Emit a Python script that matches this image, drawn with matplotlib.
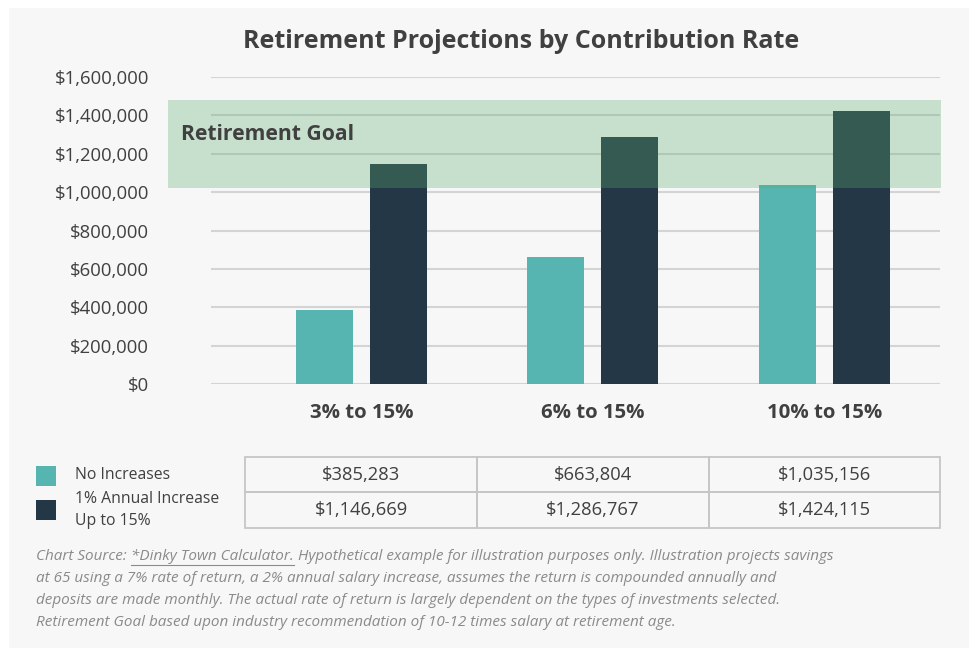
import matplotlib
matplotlib.use("Agg")
import matplotlib.pyplot as plt
import matplotlib.patches as mpatches
from matplotlib.ticker import FuncFormatter

plt.rcParams['font.family'] = ['Open Sans', 'DejaVu Sans']

# data
categories = ['3% to 15%', '6% to 15%', '10% to 15%']
no_increase = [385283, 663804, 1035156]
annual_increase = [1146669, 1286767, 1424115]
series_names = ['No Increases', '1% Annual Increase\nUp to 15%']
goal_low, goal_high = 1020000, 1480000

title = 'Retirement Projections by Contribution Rate'
footnote = ['Hypothetical example for illustration purposes only. Illustration projects savings',
            'at 65 using a 7% rate of return, a 2% annual salary increase, assumes the return is compounded annually and',
            'deposits are made monthly. The actual rate of return is largely dependent on the types of investments selected.',
            'Retirement Goal based upon industry recommendation of 10-12 times salary at retirement age.']

teal = '#56b5b0'
navy = '#243746'
txt = '#404040'

W, H = 974, 651
fig = plt.figure(figsize=(W / 100, H / 100), dpi=100)
fig.patch.set_facecolor('white')


def fx(px):
    return px / W


def fy(py):
    return 1 - py / H


# grey panel
fig.patches.append(mpatches.Rectangle((fx(9), fy(648)), fx(960), (640) / H,
                                      transform=fig.transFigure, facecolor='#f7f7f7',
                                      edgecolor='none', zorder=-5))

ax = fig.add_axes([fx(211), fy(384), fx(729), 307 / H])
ax.set_zorder(2)
ax.set_facecolor('none')
ax.set_ylim(0, 1600000)
ax.set_xlim(-0.65, 2.5)
for s in ax.spines.values():
    s.set_visible(False)
ax.yaxis.set_major_formatter(FuncFormatter(lambda v, p: '${:,.0f}'.format(v)))
ax.set_yticks(range(0, 1600001, 200000))
ax.tick_params(axis='y', length=0, pad=44.5, labelsize=13.3, labelcolor=txt)
ax.tick_params(axis='x', length=0, pad=14)
ax.set_xticks(range(len(categories)))
ax.set_xticklabels(categories, fontsize=14.7, fontweight='bold', color=txt)
ax.grid(axis='y', color='#d4d4d4', linewidth=1.5, zorder=0)
ax.set_axisbelow(True)

x = list(range(len(categories)))
bw = 0.246
ax.bar([i - 0.16 for i in x], no_increase, width=bw, color=teal, zorder=2)
ax.bar([i + 0.16 for i in x], annual_increase, width=bw, color=navy, zorder=2)

# goal band overlay
band_l = (168 - 211) / 729
band_r = (941 - 211) / 729
ax.add_patch(mpatches.Rectangle((band_l, goal_low), band_r - band_l, goal_high - goal_low,
                                transform=ax.get_yaxis_transform(), facecolor='#5aad6e',
                                alpha=0.3, edgecolor='none', zorder=3, clip_on=False))
ax.text(band_l + 13 / 729, 1300000, 'Retirement Goal', transform=ax.get_yaxis_transform(),
        fontsize=15.2, fontweight='bold', color=txt, va='center', ha='left', zorder=4)

fig.text(fx(521), fy(42), title, fontsize=18, fontweight='bold', color=txt,
         ha='center', va='center')

# legend
for col, y0 in [(teal, 466), (navy, 500)]:
    fig.patches.append(mpatches.Rectangle((fx(36), fy(y0 + 20)), fx(20), 20 / H,
                                          transform=fig.transFigure, facecolor=col,
                                          edgecolor='none'))
fig.text(fx(75), fy(475), series_names[0], fontsize=11.3, color=txt, va='center')
fig.text(fx(75), fy(510), series_names[1], fontsize=11.3, color=txt, va='center',
         linespacing=1.55)

# value table
cols = [245, 477, 709, 940]
rows = [457, 492, 528]
for r, vals in enumerate([no_increase, annual_increase]):
    for c, v in enumerate(vals):
        fig.patches.append(mpatches.Rectangle((fx(cols[c]), fy(rows[r + 1])),
                                              fx(cols[c + 1] - cols[c]),
                                              (rows[r + 1] - rows[r]) / H,
                                              transform=fig.transFigure, facecolor='none',
                                              edgecolor='#c6c6c6', linewidth=1.3))
        fig.text(fx((cols[c] + cols[c + 1]) / 2), fy((rows[r] + rows[r + 1]) / 2),
                 '${:,}'.format(v), fontsize=13.2, color=txt, ha='center', va='center')

# footnote
fn_color = '#8a8a8a'
fn_size = 11
t1 = fig.text(fx(36), fy(556), 'Chart Source: ', fontsize=fn_size, style='italic',
              color=fn_color, va='center')
fig.canvas.draw()
r = fig.canvas.get_renderer()
bb = t1.get_window_extent(r)
t2 = fig.text(bb.x1 / W, fy(556), '*Dinky Town Calculator.', fontsize=fn_size,
              style='italic', color=fn_color, va='center')
bb2 = t2.get_window_extent(r)
fig.lines.append(plt.Line2D([bb2.x0 / W, bb2.x1 / W], [fy(565), fy(565)],
                            transform=fig.transFigure, color=fn_color, linewidth=0.8))
fig.text(bb2.x1 / W + fx(4), fy(556), footnote[0], fontsize=fn_size, style='italic',
         color=fn_color, va='center')
for i, line in enumerate(footnote[1:]):
    fig.text(fx(36), fy(578 + 22 * i), line, fontsize=fn_size, style='italic',
             color=fn_color, va='center')

fig.savefig('out.png', dpi=100, facecolor=fig.get_facecolor())
